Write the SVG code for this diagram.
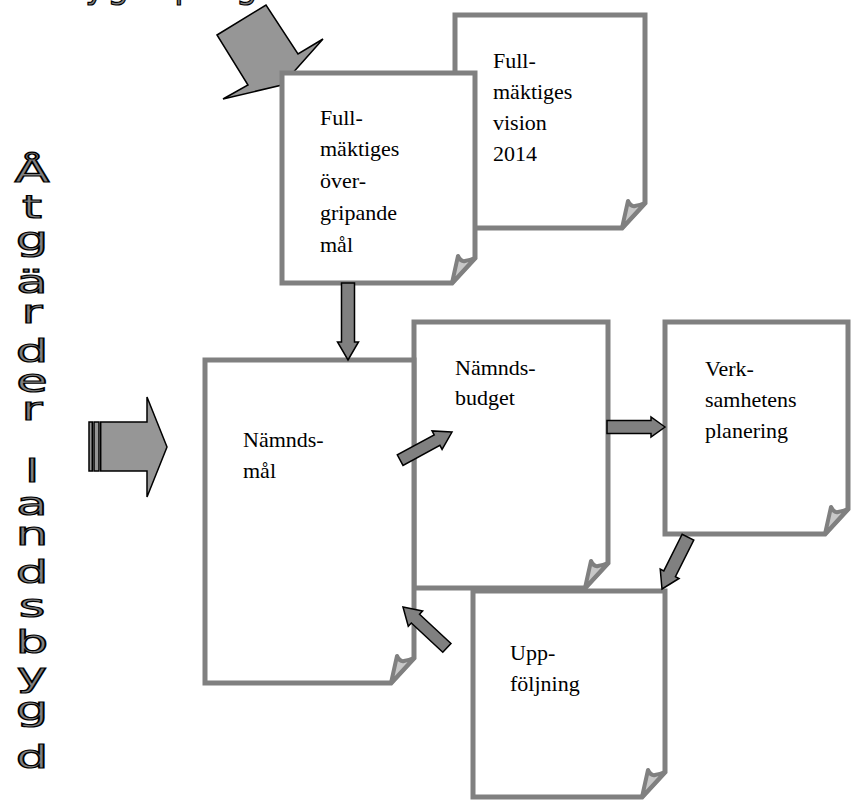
<svg xmlns="http://www.w3.org/2000/svg" width="851" height="802" viewBox="0 0 851 802">
<style>
.page{fill:#fff;stroke:#808080;stroke-width:5;stroke-linejoin:miter}
.curl{fill:#c8c8c8;stroke:#808080;stroke-width:4;stroke-linejoin:round}
.lbl{font-family:"Liberation Serif","Times New Roman",serif;font-size:22px;fill:#000}
.art{font-family:"DejaVu Sans",sans-serif;font-size:32px;fill:#808080;stroke:#000;stroke-width:1.2;text-anchor:middle}
.arr{fill:#808080;stroke:#000;stroke-width:1.5;stroke-linejoin:miter}
.big{fill:#969696;stroke:#000;stroke-width:1.5;stroke-linejoin:miter}
</style>
<defs>
<path id="curl" class="curl" d="M-23,0 L-17,-27 Q-14,-21 -10,-22 Q-5,-23 0,-25 Z"/>
</defs>
<rect width="851" height="802" fill="#fff"/>

<!-- top cut-off text -->
<text class="art" x="-49" y="-2.5" style="text-anchor:start;font-size:34px;letter-spacing:2px">Landsbygdsprogram</text>

<!-- vertical text -->
<g id="vertical-text" transform="translate(32,0) scale(1.6,1)">
<text class="art" x="0" y="182">Å</text>
<text class="art" x="0" y="218">t</text>
<text class="art" x="0" y="250">g</text>
<text class="art" x="0" y="293">ä</text>
<text class="art" x="0" y="323">r</text>
<text class="art" x="0" y="362">d</text>
<text class="art" x="0" y="392">e</text>
<text class="art" x="0" y="420">r</text>
<text class="art" x="0" y="482">l</text>
<text class="art" x="0" y="515">a</text>
<text class="art" x="0" y="545">n</text>
<text class="art" x="0" y="583">d</text>
<text class="art" x="0" y="617">s</text>
<text class="art" x="0" y="653">b</text>
<text class="art" x="0" y="686">y</text>
<text class="art" x="0" y="720">g</text>
<text class="art" x="0" y="768">d</text>
</g>

<!-- big arrow top -->
<g id="arrow-top">
<polygon class="big" points="217,35 266,5 298,54 323,39 282,85 223,99 248,85"/>
</g>

<g id="node-vision">
<path class="page" d="M455,15 H645 V203 L622,228 H455 Z"/>
<use href="#curl" transform="translate(645,228)"/>
<text class="lbl" x="493" y="68">Full-</text>
<text class="lbl" x="493" y="99">mäktiges</text>
<text class="lbl" x="493" y="130">vision</text>
<text class="lbl" x="493" y="161">2014</text>
</g>

<g id="node-overgripande">
<path class="page" d="M282,73 H475 V258 L452,283 H282 Z"/>
<use href="#curl" transform="translate(475,283)"/>
<text class="lbl" x="320" y="125">Full-</text>
<text class="lbl" x="320" y="156">mäktiges</text>
<text class="lbl" x="320" y="188">över-</text>
<text class="lbl" x="320" y="220">gripande</text>
<text class="lbl" x="320" y="252">mål</text>
</g>

<g id="node-budget">
<path class="page" d="M414,322 H608 V563 L585,588 H414 Z"/>
<use href="#curl" transform="translate(608,588)"/>
<text class="lbl" x="455" y="375">Nämnds-</text>
<text class="lbl" x="455" y="405">budget</text>
</g>

<g id="node-namndsmal">
<path class="page" d="M205,360 H414 V658 L391,683 H205 Z"/>
<use href="#curl" transform="translate(414,683)"/>
<text class="lbl" x="243" y="447">Nämnds-</text>
<text class="lbl" x="243" y="478">mål</text>
</g>

<g id="node-verksamhet">
<path class="page" d="M665,322 H848 V509 L825,534 H665 Z"/>
<use href="#curl" transform="translate(848,534)"/>
<text class="lbl" x="705" y="376">Verk-</text>
<text class="lbl" x="705" y="407">samhetens</text>
<text class="lbl" x="705" y="438">planering</text>
</g>

<g id="node-uppfoljning">
<path class="page" d="M473,591 H665 V772 L642,797 H473 Z"/>
<use href="#curl" transform="translate(665,797)"/>
<text class="lbl" x="510" y="660">Upp-</text>
<text class="lbl" x="510" y="691">följning</text>
</g>

<g id="connectors">
<rect class="big" x="89" y="422" width="3.3" height="49"/>
<rect class="big" x="94" y="422" width="5" height="49"/>
<polygon class="big" points="100.7,422 147,422 147,397 167,447 147,497 147,471 100.7,471"/>
<polygon class="arr" transform="translate(348,360) rotate(90)" points="0,0 -18,-10.5 -18,-6.5 -77,-6.5 -77,6.5 -18,6.5 -18,10.5"/>
<polygon class="arr" transform="translate(665,427) rotate(0)" points="0,0 -14,-10 -14,-6.5 -58,-6.5 -58,6.5 -14,6.5 -14,10"/>
<polygon class="arr" transform="translate(662,589) rotate(116.6)" points="0,0 -17,-10.5 -17,-6.5 -58,-6.5 -58,6.5 -17,6.5 -17,10.5"/>
<polygon class="arr" transform="translate(452,432) rotate(-28.5)" points="0,0 -17,-10.5 -17,-6 -59,-6 -59,6 -17,6 -17,10.5"/>
<polygon class="arr" transform="translate(403,607) rotate(-137)" points="0,0 -17,-10.5 -17,-6 -60,-6 -60,6 -17,6 -17,10.5"/>
</g>
</svg>
